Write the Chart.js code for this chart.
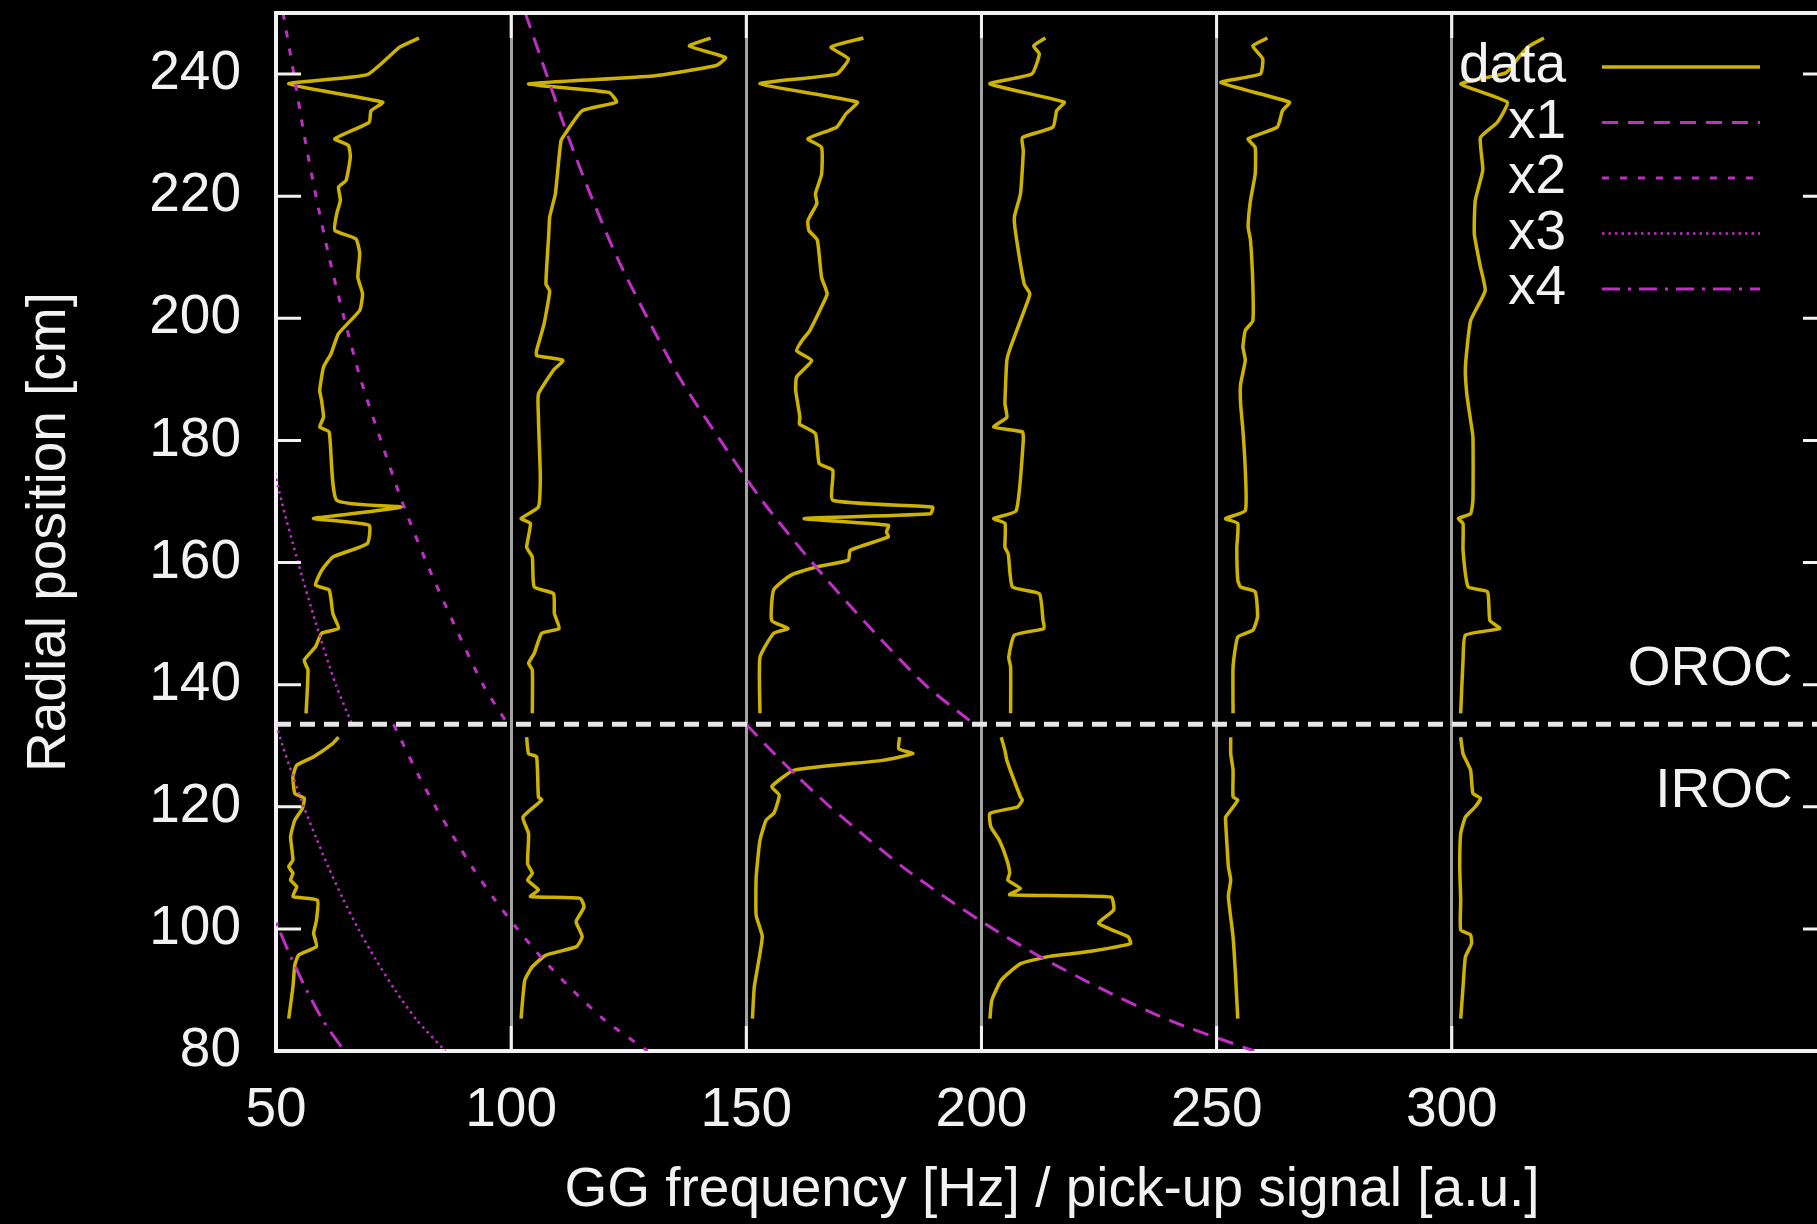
<!DOCTYPE html>
<html>
<head>
<meta charset="utf-8">
<title>GG frequency / pick-up signal vs radial position</title>
<script src="https://cdn.jsdelivr.net/npm/chart.js@4.4.1/dist/chart.umd.min.js"></script>
<style>
    html, body { margin: 0; padding: 0; background: #000; overflow: hidden; }
    #wrap { position: relative; width: 1840px; height: 1224px; }
</style>
</head>
<body>
<div id="wrap"><canvas id="chart"></canvas></div>
<script>
// Axis ticks
const xTicks = [50, 100, 150, 200, 250, 300];
const yTicks = [80, 100, 120, 140, 160, 180, 200, 220, 240];

// IROC / OROC boundary [cm]
const rocBoundary = 133.5;
const rocLabels = [
    { text: 'OROC', x: 372.5, r: 140 },
    { text: 'IROC', x: 372.5, r: 120 }
];

// Pick-up signal traces, pairs of [radius cm, value]
const t1Upper = [[245.9,80.4],[244.4,76.3],[239.9,69.4],[238.4,52.7],[235.4,72.7],[234.0,70.2],[232.1,69.8],[229.4,62.5],[228.3,65.4],[226.4,65.8],[222.6,64.9],[221.5,63.3],[219.3,63.7],[217.1,62.9],[214.4,62.5],[213.0,67.0],[210.6,67.8],[206.7,67.4],[204.0,68.4],[201.3,67.8],[197.5,63.3],[194.2,61.7],[192.0,60.1],[188.2,59.3],[186.5,59.7],[183.8,60.1],[182.2,59.3],[181.4,61.3],[170.2,62.9],[169.1,76.7],[167.7,62.9],[167.2,58.0],[166.1,69.8],[163.1,69.4],[160.9,62.1],[158.7,59.7],[156.3,58.4],[155.5,61.3],[151.6,62.1],[149.2,63.3],[148.4,59.7],[146.2,58.4],[144.0,56.0],[142.4,56.8],[135.3,56.4]];
const t1Lower = [[131.4,63.3],[130.4,62.1],[128.2,58.0],[126.8,54.4],[124.9,53.6],[122.2,54.0],[121.4,56.0],[119.7,55.6],[117.8,54.0],[115.1,53.1],[111.3,53.6],[110.2,52.7],[109.1,53.6],[108.0,53.1],[106.9,54.4],[105.3,53.6],[104.7,58.8],[101.4,58.6],[99.3,58.0],[97.1,58.6],[95.7,54.8],[94.1,54.0],[90.5,53.6],[85.3,52.7]];

const t2Upper = [[245.9,142.4],[244.6,137.9],[242.7,145.6],[241.4,143.6],[239.7,130.2],[238.4,103.7],[237.0,120.8],[235.4,122.4],[234.0,115.1],[230.7,111.9],[229.1,110.6],[220.4,109.4],[216.6,108.2],[213.8,108.0],[205.6,107.4],[204.5,108.2],[199.1,107.0],[194.7,105.4],[193.9,105.4],[193.1,111.0],[191.5,109.0],[187.6,105.8],[183.8,105.8],[181.1,105.9],[174.0,106.2],[169.1,105.8],[167.2,102.1],[166.4,104.1],[162.5,103.3],[160.9,104.5],[156.0,104.9],[154.9,109.0],[151.6,109.2],[149.2,110.2],[148.4,106.5],[145.1,104.9],[143.5,103.7],[142.4,104.5],[135.3,104.5]];
const t2Lower = [[131.4,103.3],[128.7,103.7],[128.2,105.4],[121.6,105.8],[121.1,106.5],[118.3,102.5],[115.6,103.7],[110.7,103.5],[109.1,104.5],[108.0,103.5],[106.4,105.8],[105.3,104.1],[105.0,114.7],[103.6,115.5],[101.4,113.9],[100.9,113.9],[98.7,115.1],[97.1,113.9],[95.7,107.4],[93.8,104.5],[91.6,102.9],[85.3,102.1]];

const t3Upper = [[245.9,174.9],[244.4,168.0],[242.5,171.7],[240.0,169.2],[238.4,152.9],[235.4,173.6],[233.5,171.2],[231.3,169.2],[229.4,163.1],[228.0,166.0],[223.6,166.0],[220.4,164.7],[218.8,165.0],[216.0,163.1],[214.4,163.3],[212.8,165.1],[206.7,166.0],[204.0,167.2],[201.9,166.0],[198.0,163.5],[196.4,161.9],[194.7,160.7],[193.1,163.9],[190.4,160.7],[188.2,160.5],[183.8,161.4],[182.7,161.3],[181.1,164.7],[176.2,165.5],[175.1,168.4],[170.2,168.4],[169.1,189.6],[168.0,189.2],[167.2,162.3],[166.1,180.2],[165.0,179.8],[164.2,180.2],[162.0,172.1],[160.4,171.7],[159.3,165.1],[157.9,159.4],[155.5,155.8],[150.5,155.4],[149.2,158.9],[148.4,155.8],[144.5,152.9],[135.3,152.9]];
const t3Lower = [[131.4,182.6],[129.5,182.4],[128.7,185.4],[127.6,178.9],[126.0,160.2],[123.3,155.4],[121.9,157.0],[119.0,155.9],[117.8,154.2],[114.5,152.9],[108.5,152.1],[102.2,152.1],[98.7,153.4],[90.5,151.7],[85.3,151.3]];

const t4Upper = [[245.9,213.6],[244.6,211.1],[243.3,212.3],[240.0,210.7],[238.4,201.8],[235.4,217.6],[234.0,216.0],[231.3,215.2],[229.6,208.7],[227.4,208.9],[220.4,208.3],[216.6,207.0],[213.8,207.3],[205.6,209.1],[204.0,210.3],[201.3,209.1],[195.3,206.2],[193.1,205.4],[186.0,205.0],[183.8,205.4],[182.2,202.6],[181.4,208.7],[180.0,208.9],[168.5,207.4],[167.2,202.6],[166.4,205.0],[162.5,205.0],[161.4,205.7],[156.0,206.6],[154.9,212.3],[150.5,213.1],[149.2,213.3],[148.1,207.0],[144.5,205.8],[142.9,206.2],[135.3,206.2]];
const t4Lower = [[131.4,204.2],[129.2,205.0],[127.6,205.4],[121.6,208.3],[121.1,208.7],[120.0,207.7],[118.9,201.8],[116.7,202.0],[114.5,203.8],[111.3,205.4],[109.1,206.0],[108.0,205.6],[106.6,208.3],[105.6,206.0],[105.2,227.6],[103.1,228.1],[100.9,224.9],[98.7,231.2],[97.6,231.7],[96.2,222.0],[95.5,214.5],[94.3,208.3],[91.6,204.2],[88.3,202.2],[85.3,201.8]];

const t5Upper = [[245.9,260.8],[244.6,257.7],[242.5,259.8],[240.0,259.3],[238.6,250.9],[235.4,265.5],[234.0,264.0],[231.3,262.9],[229.4,256.7],[228.0,258.2],[223.6,258.2],[219.3,257.2],[215.0,256.7],[212.8,257.2],[205.6,257.7],[199.6,257.7],[198.0,256.1],[195.3,255.6],[193.1,256.1],[189.2,255.1],[186.0,255.1],[181.6,255.6],[175.1,256.1],[168.5,256.1],[167.2,251.9],[166.4,254.5],[162.5,254.3],[157.1,254.5],[156.0,255.1],[155.2,258.2],[151.1,258.7],[148.9,257.7],[147.8,254.5],[142.9,253.5],[135.3,253.5]];
const t5Lower = [[131.4,253.0],[128.7,253.0],[126.0,253.5],[121.6,253.5],[121.1,254.5],[118.3,251.9],[117.8,251.9],[110.2,252.5],[108.0,253.0],[105.3,252.5],[98.7,253.5],[92.7,254.0],[85.3,254.5]];

const t6Upper = [[245.9,319.6],[244.6,316.5],[243.0,314.5],[240.2,311.5],[238.4,301.9],[235.4,311.8],[232.1,309.7],[229.6,306.1],[224.3,306.6],[219.3,305.0],[213.8,304.8],[208.4,306.1],[204.5,307.1],[199.6,304.0],[192.0,302.9],[187.6,303.2],[183.3,304.0],[180.6,304.5],[170.2,304.5],[168.0,304.0],[167.2,301.4],[166.4,302.4],[162.0,302.4],[156.0,303.5],[155.2,307.6],[150.5,308.1],[149.2,310.2],[148.1,302.9],[144.0,302.4],[135.3,301.9]];
const t6Lower = [[131.4,301.9],[128.7,302.4],[126.0,304.0],[122.2,304.5],[121.4,306.1],[120.0,305.0],[118.3,302.9],[115.6,301.9],[110.2,301.7],[104.7,301.9],[99.8,301.9],[99.0,304.0],[97.6,304.2],[95.4,302.9],[90.5,302.4],[85.3,301.9]];

// Harmonic curves x1..x4 (OROC part above boundary, IROC part below)
const x1Upper = [[250,103],[240,107.5],[230,112],[220,117],[210,122.5],[200,129],[190,136],[180,144.5],[170,153.5],[160,164],[150,175.5],[140,188],[133.5,198.5]];
const x2Upper = [[250,51.5],[240,53.8],[230,56],[220,58.5],[210,61.3],[200,64.5],[190,68],[180,72.3],[170,76.8],[160,82],[150,87.8],[140,94],[133.5,99.3]];
const x3Upper = [[180,48.2],[170,51.2],[160,54.7],[150,58.5],[140,62.7],[133.5,66.2]];
const x1Lower = [[133.5,150],[130,154.3],[125,160.8],[120,167.8],[115,175.5],[110,183.5],[105,192.6],[100,202.5],[95,213.5],[90,226],[85,240],[80,258]];
const x2Lower = [[133.5,75],[130,77.2],[125,80.4],[120,83.9],[115,87.8],[110,91.8],[105,96.3],[100,101.3],[95,106.8],[90,113],[85,120],[80,129]];
const x3Lower = [[133.5,50],[130,51.4],[125,53.6],[120,55.9],[115,58.5],[110,61.2],[105,64.2],[100,67.5],[95,71.2],[90,75.3],[85,80],[80,86]];
const x4Lower = [[105,48.2],[100,50.6],[95,53.4],[90,56.5],[85,60],[80,64.5]];

// Styles
const FONT = '"Liberation Sans", Arial, Helvetica, sans-serif';
const TEXT_COLOR = '#f2f2f2';
const DATA_COLOR = '#cdb300';
const CURVE_COLOR = '#bf2fc4';
const curveStyles = {
    x1: { dash: [16, 10], width: 3 },
    x2: { dash: [7, 11], width: 3 },
    x3: { dash: [2.5, 4], width: 2.5 },
    x4: { dash: [18, 8, 3, 8], width: 3 }
};

function toPoints(pairs) {
    return pairs.map(([r, v]) => ({ x: v, y: r }));
}

function traceDataset(pairs, label) {
    return {
        label: label,
        data: toPoints(pairs),
        borderColor: DATA_COLOR,
        borderWidth: 3.5,
        pointRadius: 0,
        showLine: true,
        tension: 0.15,
        order: 3
    };
}

function curveDataset(pairs, key, label) {
    const s = curveStyles[key];
    return {
        label: label,
        data: toPoints(pairs),
        borderColor: CURVE_COLOR,
        borderWidth: s.width,
        borderDash: s.dash,
        pointRadius: 0,
        showLine: true,
        tension: 0.25,
        order: 2
    };
}

const datasets = [
    traceDataset(t1Upper, 'data'),
    traceDataset(t1Lower, ''),
    traceDataset(t2Upper, ''),
    traceDataset(t2Lower, ''),
    traceDataset(t3Upper, ''),
    traceDataset(t3Lower, ''),
    traceDataset(t4Upper, ''),
    traceDataset(t4Lower, ''),
    traceDataset(t5Upper, ''),
    traceDataset(t5Lower, ''),
    traceDataset(t6Upper, ''),
    traceDataset(t6Lower, ''),
    curveDataset(x1Upper, 'x1', 'x1'),
    curveDataset(x1Lower, 'x1', ''),
    curveDataset(x2Upper, 'x2', 'x2'),
    curveDataset(x2Lower, 'x2', ''),
    curveDataset(x3Upper, 'x3', 'x3'),
    curveDataset(x3Lower, 'x3', ''),
    curveDataset(x4Lower, 'x4', 'x4'),
    {
        label: '',
        data: [{ x: 50, y: rocBoundary }, { x: 380, y: rocBoundary }],
        borderColor: '#e6e6e6',
        borderWidth: 5,
        borderDash: [15, 9],
        pointRadius: 0,
        showLine: true,
        order: 1
    }
];

// Frame, inward ticks, labels and key in gnuplot style
const gnuplotFrame = {
    id: 'gnuplotFrame',
    beforeDraw(chart) {
        const ctx = chart.ctx;
        ctx.save();
        ctx.fillStyle = '#000';
        ctx.fillRect(0, 0, chart.width, chart.height);
        ctx.restore();
    },
    afterDraw(chart) {
        const { ctx, chartArea: a, scales: { x, y } } = chart;
        ctx.save();

        // inward tick marks on all four sides
        ctx.strokeStyle = TEXT_COLOR;
        ctx.lineWidth = 3;
        ctx.beginPath();
        yTicks.forEach(v => {
            const py = y.getPixelForValue(v);
            ctx.moveTo(a.left, py); ctx.lineTo(a.left + 25, py);
            ctx.moveTo(a.right, py); ctx.lineTo(a.right - 25, py);
        });
        xTicks.forEach(v => {
            const px = x.getPixelForValue(v);
            ctx.moveTo(px, a.bottom); ctx.lineTo(px, a.bottom - 25);
            ctx.moveTo(px, a.top); ctx.lineTo(px, a.top + 25);
        });
        ctx.stroke();

        // top and right border
        ctx.lineWidth = 4;
        ctx.beginPath();
        ctx.moveTo(a.left, a.top);
        ctx.lineTo(a.right, a.top);
        ctx.lineTo(a.right, a.bottom);
        ctx.stroke();

        // OROC / IROC labels
        ctx.fillStyle = TEXT_COLOR;
        ctx.font = '55px ' + FONT;
        ctx.textAlign = 'right';
        ctx.textBaseline = 'alphabetic';
        rocLabels.forEach(l => {
            ctx.fillText(l.text, x.getPixelForValue(l.x), y.getPixelForValue(l.r));
        });

        // key
        ctx.textBaseline = 'middle';
        const keyItems = chart.data.datasets.filter(d => d.label);
        keyItems.forEach((d, i) => {
            const ky = a.top + 54 + i * 55.5;
            ctx.fillStyle = TEXT_COLOR;
            ctx.fillText(d.label, a.right - 262, ky);
            ctx.strokeStyle = d.borderColor;
            ctx.lineWidth = d.borderWidth;
            ctx.setLineDash(d.borderDash || []);
            ctx.beginPath();
            ctx.moveTo(a.right - 226, ky);
            ctx.lineTo(a.right - 68, ky);
            ctx.stroke();
        });
        ctx.restore();
    }
};

Chart.defaults.font.family = FONT;
Chart.defaults.color = TEXT_COLOR;

new Chart(document.getElementById('chart'), {
    type: 'scatter',
    data: { datasets: datasets },
    options: {
        responsive: true,
        maintainAspectRatio: false,
        devicePixelRatio: 1,
        animation: false,
        layout: { padding: { top: 13, right: 12, bottom: 0, left: 0 } },
        plugins: {
            legend: { display: false },
            tooltip: { enabled: false }
        },
        scales: {
            x: {
                type: 'linear',
                position: 'bottom',
                min: 50,
                max: 380,
                afterBuildTicks: s => { s.ticks = xTicks.map(v => ({ value: v })); },
                afterFit: s => { s.height = 173; s.paddingLeft = 0; s.paddingRight = 0; },
                grid: {
                    color: c => (c.tick && c.tick.value > 50) ? '#a3a3a3' : 'rgba(0,0,0,0)',
                    lineWidth: 3,
                    drawTicks: false
                },
                border: { color: TEXT_COLOR, width: 4 },
                ticks: {
                    color: TEXT_COLOR,
                    font: { size: 55 },
                    padding: 27,
                    maxRotation: 0,
                    autoSkip: false
                },
                title: {
                    display: true,
                    text: 'GG frequency [Hz] / pick-up signal [a.u.]',
                    color: TEXT_COLOR,
                    font: { size: 55 },
                    padding: { top: 0, bottom: 0 }
                }
            },
            y: {
                type: 'linear',
                min: 80,
                max: 250,
                afterBuildTicks: s => { s.ticks = yTicks.map(v => ({ value: v })); },
                afterFit: s => { s.width = 276; s.paddingTop = 0; s.paddingBottom = 0; },
                grid: { display: false, drawTicks: false },
                border: { color: TEXT_COLOR, width: 4 },
                ticks: {
                    color: TEXT_COLOR,
                    font: { size: 55 },
                    padding: 35
                },
                title: {
                    display: true,
                    text: 'Radial position [cm]',
                    color: TEXT_COLOR,
                    font: { size: 55 },
                    padding: { top: 17, bottom: 0 }
                }
            }
        }
    },
    plugins: [gnuplotFrame]
});
</script>
</body>
</html>
